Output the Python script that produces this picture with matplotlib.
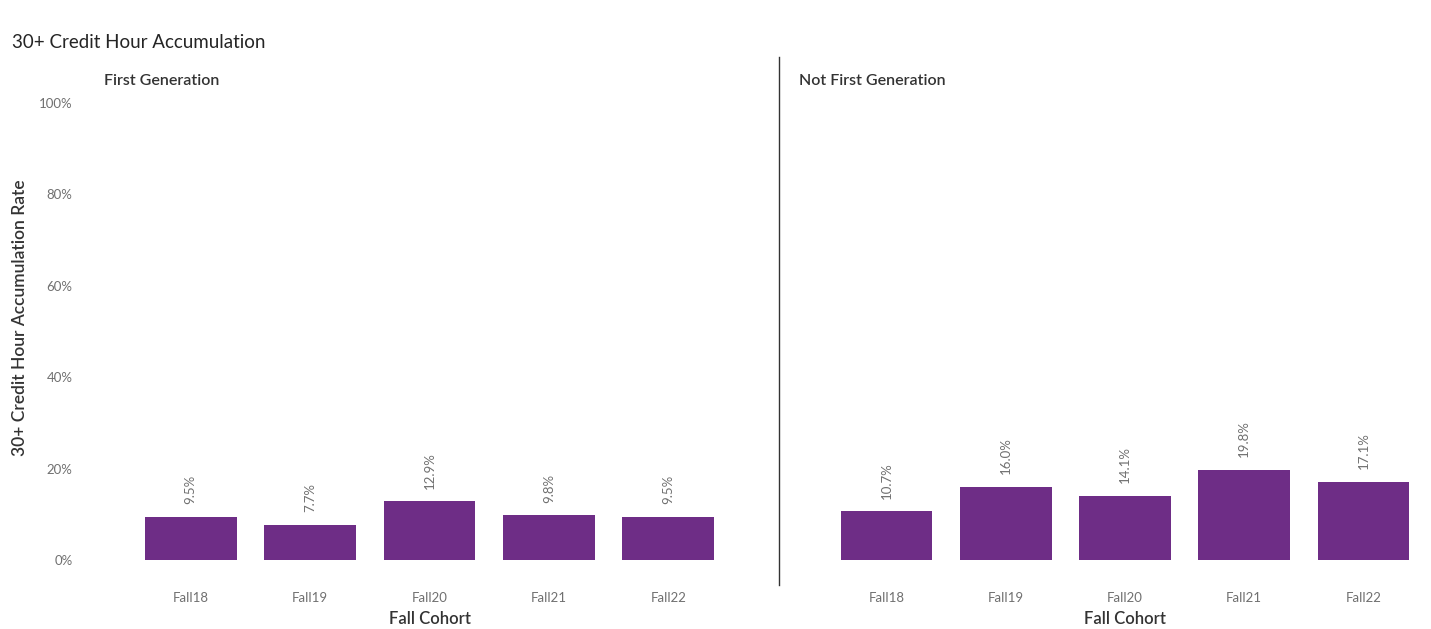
import matplotlib.pyplot as plt
from matplotlib.ticker import PercentFormatter

cohorts = ["Fall18", "Fall19", "Fall20", "Fall21", "Fall22"]
first_gen = [0.095, 0.077, 0.129, 0.098, 0.095]
not_first_gen = [0.107, 0.160, 0.141, 0.198, 0.171]
panel_titles = ["First Generation", "Not First Generation"]

BAR = "#6E2D86"
W, H = 1431, 629

plt.rcParams['font.family'] = ['Lato', 'DejaVu Sans']

fig = plt.figure(figsize=(W / 100, H / 100), dpi=100)
fig.patch.set_facecolor("white")


def px_axes(x0, x1, y0, y1):
    # pixel box -> figure fraction
    return fig.add_axes([x0 / W, 1 - y1 / H, (x1 - x0) / W, (y1 - y0) / H])


ax1 = px_axes(131, 728, 103, 560)
ax2 = px_axes(827, 1423, 103, 560)

for ax, vals, title, tx in [(ax1, first_gen, panel_titles[0], 104),
                            (ax2, not_first_gen, panel_titles[1], 799)]:
    bars = ax.bar(cohorts, vals, width=0.77, color=BAR)
    ax.set_ylim(0, 1)
    ax.set_xlim(-0.5, 4.5)
    for s in ax.spines.values():
        s.set_visible(False)
    ax.tick_params(axis="x", length=0, pad=23, labelsize=9.5, labelcolor="#707070")
    ax.set_xlabel("Fall Cohort", fontsize=12, color="#333333", labelpad=5,
                  fontweight="semibold")
    for b, v in zip(bars, vals):
        ax.annotate(f"{v * 100:.1f}%", (b.get_x() + b.get_width() / 2, v),
                    xytext=(0, 9), textcoords="offset points", rotation=90,
                    ha="center", va="bottom", fontsize=9.5, color="#707070")
    fig.text(tx / W, 1 - 81 / H, title, fontsize=11.5, color="#333333", va="center",
             fontweight="semibold")

ax1.set_yticks([0, 0.2, 0.4, 0.6, 0.8, 1.0])
ax1.yaxis.set_major_formatter(PercentFormatter(1.0, decimals=0))
ax1.tick_params(axis="y", length=0, pad=42, labelsize=9.5, labelcolor="#707070")
ax2.set_yticks([])

fig.text(20 / W, 1 - 318 / H, "30+ Credit Hour Accumulation Rate", rotation=90,
         fontsize=12.5, color="#333333", ha="center", va="center",
         fontweight="semibold")
fig.text(12 / W, 1 - 42 / H, "30+ Credit Hour Accumulation", fontsize=13.5,
         color="#252525", va="center")

# divider between the two panels
fig.add_artist(plt.Line2D([779 / W, 779 / W], [1 - 57 / H, 1 - 585 / H],
                          color="#333333", linewidth=1))

fig.savefig("out.png", dpi=100, facecolor="white")
